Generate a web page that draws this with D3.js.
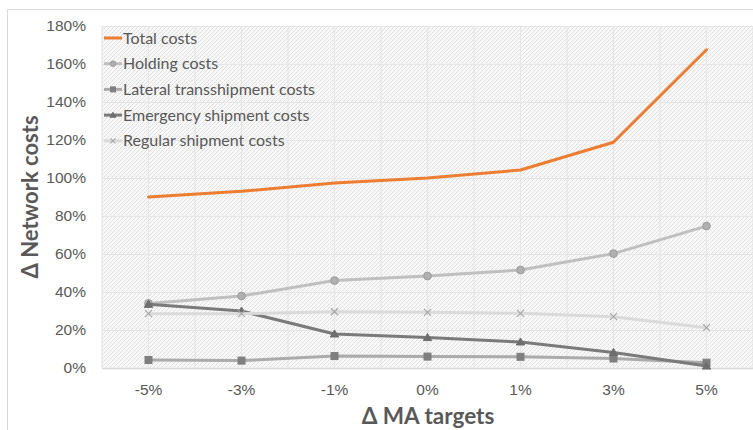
<!DOCTYPE html>
<html>
<head>
<meta charset="utf-8">
<script src="https://cdn.jsdelivr.net/npm/d3@7/dist/d3.min.js"></script>
<style>
  html, body { margin: 0; padding: 0; background: #fff; }
  svg { display: block; font-family: Lato, "Open Sans", sans-serif; }
</style>
</head>
<body>
<svg id="chart" width="753" height="430"></svg>
<script>
// MA target scenarios and the relative network cost components (% of baseline)
const categories = ["-5%", "-3%", "-1%", "0%", "1%", "3%", "5%"];
const totalCosts     = [90, 93, 97.4, 100, 104.2, 118.8, 167.5];
const holdingCosts   = [34, 37.9, 46, 48.4, 51.6, 60.2, 74.7];
const lateralCosts   = [4.2, 3.9, 6.3, 6.0, 5.9, 5.0, 2.8];
const emergencyCosts = [33.5, 30, 17.9, 16, 13.7, 8.2, 1.0];
const regularCosts   = [28.6, 28.6, 29.6, 29.3, 28.8, 27.0, 21.2];
const yTicks = [0, 20, 40, 60, 80, 100, 120, 140, 160, 180];

const series = [
  { name: "Total costs", values: totalCosts, color: "#ED7D31", width: 3, marker: null },
  { name: "Holding costs", values: holdingCosts, color: "#BFBFBF", width: 3, marker: "circle", mfill: "#B0B0B0", mstroke: "#9A9A9A" },
  { name: "Lateral transshipment costs", values: lateralCosts, color: "#ABABAB", width: 3, marker: "square", mfill: "#7F7F7F", mstroke: "#7F7F7F" },
  { name: "Emergency shipment costs", values: emergencyCosts, color: "#7A7A7A", width: 3, marker: "triangle", mfill: "#6E6E6E", mstroke: "#6E6E6E" },
  { name: "Regular shipment costs", values: regularCosts, color: "#DADADA", width: 3, marker: "cross", mfill: "none", mstroke: "#A6A6A6" }
];

const svg = d3.select("#chart");
const plot = { left: 102, right: 753, top: 26, bottom: 368 };

// dotted fill used behind the plot area
const defs = svg.append("defs");
const pat = defs.append("pattern").attr("id", "dots")
  .attr("width", 4).attr("height", 4).attr("patternUnits", "userSpaceOnUse");
pat.append("rect").attr("width", 4).attr("height", 4).attr("fill", "#F8F8F8");
[[0,0],[2,2],[3,1],[1,3]].forEach(([px, py], i) => {
  pat.append("rect").attr("x", px).attr("y", py)
    .attr("width", 1).attr("height", 1).attr("fill", i > 1 ? "#E6E6E6" : "#DCDCDC");
});

// chart area border
svg.append("rect").attr("x", 7.5).attr("y", 9.5).attr("width", 800).attr("height", 500)
  .attr("fill", "#fff").attr("stroke", "#D9D9D9").attr("stroke-width", 1);

const x = d3.scaleBand().domain(categories).range([plot.left, plot.right]);
const y = d3.scaleLinear().domain([0, 180]).range([plot.bottom, plot.top]);
const cx = c => x(c) + x.bandwidth() / 2;

svg.append("rect").attr("x", plot.left).attr("y", plot.top)
  .attr("width", plot.right - plot.left).attr("height", plot.bottom - plot.top)
  .attr("fill", "url(#dots)");

// gridlines
const grid = svg.append("g").attr("stroke", "#E6E6E6").attr("stroke-width", 1.2);
yTicks.forEach(t => {
  grid.append("line").attr("x1", plot.left).attr("x2", plot.right)
    .attr("y1", Math.round(y(t)) + 0.5).attr("y2", Math.round(y(t)) + 0.5);
});
const vx = [];
categories.forEach(c => { vx.push(x(c)); vx.push(cx(c)); });
vx.push(plot.right);
vx.forEach(v => {
  grid.append("line").attr("x1", v).attr("x2", v).attr("y1", plot.top).attr("y2", plot.bottom);
});
// baseline
svg.append("line").attr("x1", plot.left).attr("x2", plot.right)
  .attr("y1", y(0) + 0.5).attr("y2", y(0) + 0.5).attr("stroke", "#D9D9D9").attr("stroke-width", 1.5);

// axes
const yAxis = d3.axisLeft(y).tickValues(yTicks).tickFormat(d => d + "%").tickSize(0).tickPadding(16);
const gy = svg.append("g").attr("transform", `translate(${plot.left},0)`).call(yAxis);
gy.select(".domain").remove();
gy.selectAll("text").attr("fill", "#595959").style("font-size", "15.5px");

const xAxis = d3.axisBottom(x).tickSize(0).tickPadding(16);
const gx = svg.append("g").attr("transform", `translate(0,${plot.bottom})`).call(xAxis);
gx.select(".domain").remove();
gx.selectAll("text").attr("fill", "#595959").style("font-size", "15.5px");

// axis titles
svg.append("text").attr("transform", `translate(38,197) rotate(-90)`)
  .attr("text-anchor", "middle").attr("fill", "#595959")
  .style("font-size", "22px").style("font-weight", "bold").text("Δ Network costs");
svg.append("text").attr("x", 428).attr("y", 424)
  .attr("text-anchor", "middle").attr("fill", "#595959")
  .style("font-size", "22.5px").style("font-weight", "bold").text("Δ MA targets");

// marker drawing
function drawMarker(g, type, px, py, s, size) {
  if (type === "circle") {
    g.append("circle").attr("cx", px).attr("cy", py).attr("r", size * 0.55)
      .attr("fill", s.mfill).attr("stroke", s.mstroke).attr("stroke-width", 1);
  } else if (type === "square") {
    g.append("rect").attr("x", px - size / 2).attr("y", py - size / 2)
      .attr("width", size).attr("height", size)
      .attr("fill", s.mfill).attr("stroke", s.mstroke).attr("stroke-width", 1);
  } else if (type === "triangle") {
    const h = size * 0.95;
    g.append("path").attr("d", `M${px},${py - h * 0.6}L${px + size * 0.6},${py + h * 0.45}L${px - size * 0.6},${py + h * 0.45}Z`)
      .attr("fill", s.mfill).attr("stroke", s.mstroke).attr("stroke-width", 1);
  } else if (type === "cross") {
    const r = size / 2;
    g.append("path").attr("d", `M${px - r},${py - r}L${px + r},${py + r}M${px - r},${py + r}L${px + r},${py - r}`)
      .attr("stroke", s.mstroke).attr("stroke-width", 1.1).attr("fill", "none");
  }
}

// series lines and markers
const line = d3.line().x((d, i) => cx(categories[i])).y(d => y(d));
series.forEach(s => {
  const g = svg.append("g");
  g.append("path").datum(s.values).attr("d", line)
    .attr("fill", "none").attr("stroke", s.color).attr("stroke-width", s.width)
    .attr("stroke-linejoin", "round").attr("stroke-linecap", "round");
  if (s.marker) {
    s.values.forEach((v, i) => drawMarker(g, s.marker, cx(categories[i]), y(v), s, 7));
  }
});

// legend
const leg = svg.append("g").attr("transform", "translate(104,38)");
series.forEach((s, i) => {
  const row = leg.append("g").attr("transform", `translate(0,${i * 25.7})`);
  row.append("line").attr("x1", 0).attr("x2", 18).attr("y1", 0).attr("y2", 0)
    .attr("stroke", s.color).attr("stroke-width", 3);
  if (s.marker) drawMarker(row, s.marker, 9, 0, s, 5);
  row.append("text").attr("x", 19).attr("y", 5.5).attr("fill", "#595959")
    .style("font-size", "16px").text(s.name);
});
</script>
</body>
</html>
